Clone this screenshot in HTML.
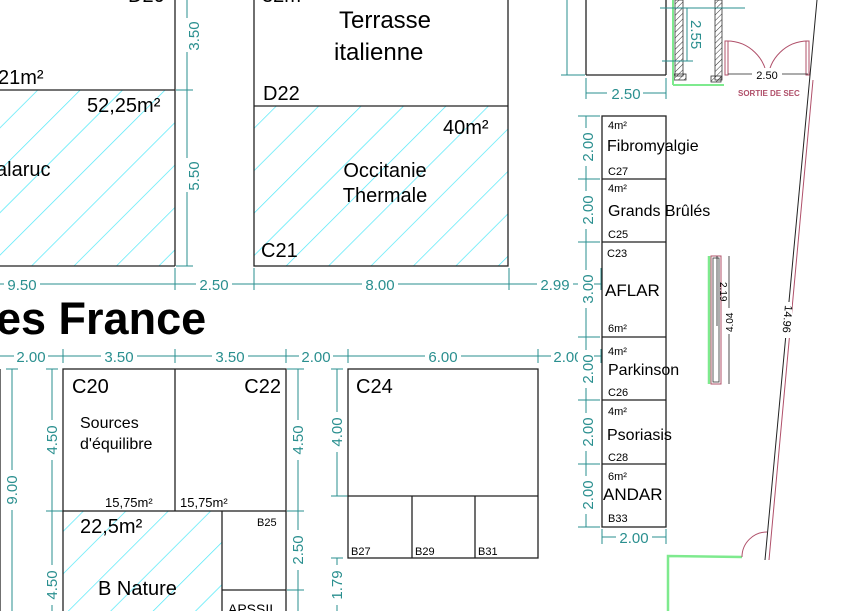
<!DOCTYPE html>
<html><head><meta charset="utf-8"><style>
html,body{margin:0;padding:0;background:#fff;}
svg{display:block;font-family:"Liberation Sans",Arial,sans-serif;}
.w{stroke:#222;stroke-width:1.3;fill:none;}
.d{stroke:#2a8f8f;stroke-width:1;fill:none;}
.dt{fill:#2a8f8f;font-size:15px;}
.t{fill:#000;}
</style></head><body>
<svg width="861" height="611" viewBox="0 0 861 611" xmlns="http://www.w3.org/2000/svg">
<defs>
<pattern id="h" patternUnits="userSpaceOnUse" width="30" height="30" patternTransform="rotate(45)">
<line x1="0" y1="0" x2="0" y2="30" stroke="#4de8f8" stroke-width="1.4"/>
</pattern>
<pattern id="wh" patternUnits="userSpaceOnUse" width="4" height="4" patternTransform="rotate(45)">
<line x1="0" y1="0" x2="0" y2="4" stroke="#333" stroke-width="1"/>
</pattern>
</defs>

<rect x="0" y="90" width="175" height="176" fill="url(#h)"/>
<rect x="254" y="106" width="254" height="160" fill="url(#h)"/>
<rect x="63" y="511" width="159" height="100" fill="url(#h)"/>

<line class="w" x1="175" y1="0" x2="175" y2="266"/>
<line class="w" x1="0" y1="90" x2="175" y2="90"/>
<line class="w" x1="0" y1="266" x2="175" y2="266"/>
<text class="t" x="128" y="2" font-size="20">D20</text>
<text class="t" x="-2" y="84" font-size="20">21m²</text>
<text class="t" x="87" y="112" font-size="20">52,25m²</text>
<text class="t" x="-4" y="176" font-size="20">alaruc</text>

<line class="d" x1="187" y1="0" x2="187" y2="266"/>
<line class="d" x1="176" y1="90" x2="193" y2="90"/>
<line class="d" x1="176" y1="266" x2="193" y2="266"/>
<rect x="180" y="18" width="14" height="34" fill="#fff"/>
<text class="dt" transform="translate(199,36) rotate(-90)" text-anchor="middle">3.50</text>
<rect x="180" y="158" width="14" height="34" fill="#fff"/>
<text class="dt" transform="translate(199,176) rotate(-90)" text-anchor="middle">5.50</text>

<rect class="w" x="254" y="-2" width="254" height="268"/>
<line class="w" x1="254" y1="106" x2="508" y2="106"/>
<text class="t" x="262" y="2" font-size="20">32m²</text>
<text class="t" x="385" y="28" font-size="24" text-anchor="middle">Terrasse</text>
<text class="t" x="334" y="60" font-size="24">italienne</text>
<text class="t" x="263" y="100" font-size="20">D22</text>
<text class="t" x="443" y="134" font-size="20">40m²</text>
<text class="t" x="385" y="177" font-size="20" text-anchor="middle">Occitanie</text>
<text class="t" x="385" y="202" font-size="20" text-anchor="middle">Thermale</text>
<text class="t" x="261" y="257" font-size="20">C21</text>

<line class="d" x1="0" y1="284" x2="601" y2="284"/>
<g class="d"><line x1="175" y1="268" x2="175" y2="290"/><line x1="254" y1="268" x2="254" y2="290"/><line x1="509" y1="268" x2="509" y2="290"/><line x1="601" y1="268" x2="601" y2="290"/></g>
<rect x="4" y="276" width="36" height="16" fill="#fff"/><text class="dt" x="22" y="290" text-anchor="middle">9.50</text>
<rect x="196" y="276" width="36" height="16" fill="#fff"/><text class="dt" x="214" y="290" text-anchor="middle">2.50</text>
<rect x="362" y="276" width="36" height="16" fill="#fff"/><text class="dt" x="380" y="290" text-anchor="middle">8.00</text>
<rect x="537" y="276" width="36" height="16" fill="#fff"/><text class="dt" x="555" y="290" text-anchor="middle">2.99</text>

<text x="-4" y="334" font-size="45" font-weight="bold" fill="#000">es France</text>

<line class="d" x1="0" y1="356" x2="601" y2="356"/>
<g class="d"><line x1="63" y1="349" x2="63" y2="363"/><line x1="175" y1="349" x2="175" y2="363"/><line x1="286" y1="349" x2="286" y2="363"/><line x1="348" y1="349" x2="348" y2="363"/><line x1="538" y1="349" x2="538" y2="363"/><line x1="601" y1="349" x2="601" y2="363"/></g>
<rect x="14" y="348" width="34" height="16" fill="#fff"/><text class="dt" x="31" y="362" text-anchor="middle">2.00</text>
<rect x="101" y="348" width="36" height="16" fill="#fff"/><text class="dt" x="119" y="362" text-anchor="middle">3.50</text>
<rect x="212" y="348" width="36" height="16" fill="#fff"/><text class="dt" x="230" y="362" text-anchor="middle">3.50</text>
<rect x="299" y="348" width="34" height="16" fill="#fff"/><text class="dt" x="316" y="362" text-anchor="middle">2.00</text>
<rect x="425" y="348" width="36" height="16" fill="#fff"/><text class="dt" x="443" y="362" text-anchor="middle">6.00</text>
<rect x="551" y="348" width="34" height="16" fill="#fff"/><text class="dt" x="568" y="362" text-anchor="middle">2.00</text>

<line class="w" x1="0" y1="369" x2="0" y2="611"/>
<line class="d" x1="12" y1="369" x2="12" y2="611"/>
<line class="d" x1="6" y1="369" x2="18" y2="369"/>
<rect x="4" y="470" width="16" height="40" fill="#fff"/>
<text class="dt" transform="translate(17,490) rotate(-90)" text-anchor="middle">9.00</text>
<line class="d" x1="52" y1="369" x2="52" y2="611"/>
<line class="d" x1="46" y1="369" x2="58" y2="369"/>
<line class="d" x1="46" y1="511" x2="63" y2="511"/>
<rect x="44" y="420" width="16" height="40" fill="#fff"/>
<text class="dt" transform="translate(57,440) rotate(-90)" text-anchor="middle">4.50</text>
<rect x="44" y="565" width="16" height="40" fill="#fff"/>
<text class="dt" transform="translate(57,585) rotate(-90)" text-anchor="middle">4.50</text>

<rect class="w" x="63" y="369" width="223" height="142"/>
<line class="w" x1="175" y1="369" x2="175" y2="511"/>
<line class="w" x1="63" y1="511" x2="63" y2="611"/>
<line class="w" x1="222" y1="511" x2="222" y2="611"/>
<line class="w" x1="286" y1="511" x2="286" y2="611"/>
<line class="w" x1="222" y1="590" x2="286" y2="590"/>
<text class="t" x="72" y="393" font-size="20">C20</text>
<text class="t" x="281" y="393" font-size="20" text-anchor="end">C22</text>
<text class="t" x="80" y="428" font-size="16">Sources</text>
<text class="t" x="80" y="449" font-size="16">d'équilibre</text>
<text class="t" x="105" y="507" font-size="13">15,75m²</text>
<text class="t" x="180" y="507" font-size="13">15,75m²</text>
<text class="t" x="80" y="533" font-size="20">22,5m²</text>
<text class="t" x="98" y="595" font-size="20">B Nature</text>
<text class="t" x="257" y="526" font-size="11">B25</text>
<text class="t" x="228" y="614" font-size="14">APSSII</text>

<line class="d" x1="298" y1="369" x2="298" y2="611"/>
<line class="d" x1="287" y1="369" x2="304" y2="369"/>
<line class="d" x1="287" y1="511" x2="304" y2="511"/>
<line class="d" x1="287" y1="590" x2="304" y2="590"/>
<rect x="290" y="420" width="16" height="40" fill="#fff"/>
<text class="dt" transform="translate(303,440) rotate(-90)" text-anchor="middle">4.50</text>
<rect x="290" y="530" width="16" height="40" fill="#fff"/>
<text class="dt" transform="translate(303,550) rotate(-90)" text-anchor="middle">2.50</text>

<line class="d" x1="337" y1="369" x2="337" y2="496"/>
<line class="d" x1="331" y1="369" x2="343" y2="369"/>
<line class="d" x1="331" y1="496" x2="348" y2="496"/>
<rect x="329" y="412" width="16" height="40" fill="#fff"/>
<text class="dt" transform="translate(342,432) rotate(-90)" text-anchor="middle">4.00</text>
<line class="d" x1="337" y1="558" x2="337" y2="611"/>
<line class="d" x1="331" y1="558" x2="343" y2="558"/>
<rect x="329" y="565" width="16" height="40" fill="#fff"/>
<text class="dt" transform="translate(342,585) rotate(-90)" text-anchor="middle">1.79</text>

<rect class="w" x="348" y="369" width="190" height="189"/>
<line class="w" x1="348" y1="496" x2="538" y2="496"/>
<line class="w" x1="412" y1="496" x2="412" y2="558"/>
<line class="w" x1="475" y1="496" x2="475" y2="558"/>
<text class="t" x="356" y="393" font-size="20">C24</text>
<text class="t" x="351" y="555" font-size="11">B27</text>
<text class="t" x="415" y="555" font-size="11">B29</text>
<text class="t" x="478" y="555" font-size="11">B31</text>

<line class="w" x1="586" y1="0" x2="586" y2="75"/>
<line class="w" x1="666" y1="0" x2="666" y2="75"/>
<line class="w" x1="586" y1="75" x2="666" y2="75"/>
<line class="d" x1="567" y1="0" x2="567" y2="75"/>
<line class="d" x1="561" y1="75" x2="585" y2="75"/>
<line class="d" x1="586" y1="93" x2="666" y2="93"/>
<line class="d" x1="586" y1="78" x2="586" y2="99"/>
<line class="d" x1="666" y1="78" x2="666" y2="99"/>
<rect x="607" y="85" width="36" height="16" fill="#fff"/><text class="dt" x="626" y="99" text-anchor="middle" font-size="16">2.50</text>

<rect x="675" y="0" width="8" height="76" fill="url(#wh)" stroke="#333" stroke-width="0.8"/>
<rect x="715" y="0" width="7" height="80" fill="url(#wh)" stroke="#333" stroke-width="0.8"/>
<rect x="674" y="74" width="12" height="6" fill="url(#wh)" stroke="#333" stroke-width="0.8"/>
<rect x="711" y="76" width="10" height="6" fill="url(#wh)" stroke="#333" stroke-width="0.8"/>
<line x1="673" y1="0" x2="673" y2="85" stroke="#7eea8e" stroke-width="2"/>
<line x1="673" y1="85" x2="724" y2="85" stroke="#7eea8e" stroke-width="2"/>
<line class="d" x1="660" y1="8" x2="745" y2="8"/>
<line class="d" x1="662" y1="61" x2="693" y2="61"/>
<line class="d" x1="687" y1="8" x2="687" y2="61"/>
<text class="dt" transform="translate(691,20) rotate(90)" font-size="11">2.55</text>
<g stroke="#b0506a" fill="none" stroke-width="1">
<rect x="725" y="41" width="3" height="34"/>
<rect x="806" y="41" width="3" height="34"/>
<path d="M727 41 A40 40 0 0 1 767 80"/>
<path d="M808 41 A40 40 0 0 0 768 80"/>
</g>
<line x1="728" y1="74" x2="808" y2="74" stroke="#222" stroke-width="0.8"/>
<rect x="752" y="68" width="30" height="12" fill="#fff"/>
<text x="767" y="79" font-size="11" text-anchor="middle" fill="#000">2.50</text>
<text x="738" y="96" font-size="8" fill="#b0506a" font-weight="bold">SORTIE DE SEC</text>

<line x1="817" y1="0" x2="765" y2="560" stroke="#222" stroke-width="1"/>
<line x1="813" y1="80" x2="769" y2="560" stroke="#b0506a" stroke-width="1"/>
<rect x="780" y="302" width="12" height="36" fill="#fff"/>
<text transform="translate(785,305) rotate(95)" font-size="11" fill="#000">14.96</text>

<line x1="709" y1="256" x2="709" y2="384" stroke="#7eea8e" stroke-width="2.5"/>
<rect x="711" y="256" width="10" height="128" fill="none" stroke="#b0506a" stroke-width="1"/>
<rect x="713" y="258" width="6" height="124" fill="none" stroke="#333" stroke-width="0.8"/>
<line x1="729" y1="256" x2="729" y2="384" stroke="#222" stroke-width="0.8"/>
<line x1="717" y1="256" x2="717" y2="326" stroke="#222" stroke-width="0.8"/>
<text transform="translate(720,282) rotate(90)" font-size="10" fill="#000">2.19</text>
<rect x="724" y="308" width="10" height="26" fill="#fff"/>
<text transform="translate(733,332) rotate(-90)" font-size="10" fill="#000">4.04</text>

<path d="M668 611 L668 556 L742 557" stroke="#7eea8e" stroke-width="2.5" fill="none"/>
<path d="M742 557 A25 25 0 0 1 767 532" stroke="#b0506a" stroke-width="1" fill="none"/>

<g class="w">
<rect x="602" y="116" width="64" height="411"/>
<line x1="602" y1="179" x2="666" y2="179"/>
<line x1="602" y1="242" x2="666" y2="242"/>
<line x1="602" y1="337" x2="666" y2="337"/>
<line x1="602" y1="400" x2="666" y2="400"/>
<line x1="602" y1="464" x2="666" y2="464"/>
</g>
<g class="t">
<text x="608" y="129" font-size="11">4m²</text>
<text x="607" y="151" font-size="16">Fibromyalgie</text>
<text x="608" y="175" font-size="11">C27</text>
<text x="608" y="192" font-size="11">4m²</text>
<text x="608" y="216" font-size="16">Grands Brûlés</text>
<text x="608" y="238" font-size="11">C25</text>
<text x="607" y="257" font-size="11">C23</text>
<text x="605" y="296" font-size="17">AFLAR</text>
<text x="608" y="332" font-size="11">6m²</text>
<text x="608" y="355" font-size="11">4m²</text>
<text x="608" y="375" font-size="16">Parkinson</text>
<text x="608" y="396" font-size="11">C26</text>
<text x="608" y="415" font-size="11">4m²</text>
<text x="607" y="440" font-size="16">Psoriasis</text>
<text x="608" y="461" font-size="11">C28</text>
<text x="608" y="480" font-size="11">6m²</text>
<text x="603" y="500" font-size="17">ANDAR</text>
<text x="608" y="522" font-size="11">B33</text>
</g>
<line class="d" x1="586" y1="116" x2="586" y2="527"/>
<g class="d">
<line x1="578" y1="116" x2="600" y2="116"/><line x1="578" y1="179" x2="600" y2="179"/><line x1="578" y1="242" x2="600" y2="242"/><line x1="578" y1="337" x2="600" y2="337"/><line x1="578" y1="400" x2="600" y2="400"/><line x1="578" y1="464" x2="600" y2="464"/><line x1="578" y1="527" x2="600" y2="527"/>
</g>
<g>
<rect x="578" y="128" width="16" height="38" fill="#fff"/><text class="dt" transform="translate(593,147) rotate(-90)" text-anchor="middle" font-size="16">2.00</text>
<rect x="578" y="191" width="16" height="38" fill="#fff"/><text class="dt" transform="translate(593,210) rotate(-90)" text-anchor="middle" font-size="16">2.00</text>
<rect x="578" y="270" width="16" height="38" fill="#fff"/><text class="dt" transform="translate(593,289) rotate(-90)" text-anchor="middle" font-size="16">3.00</text>
<rect x="578" y="350" width="16" height="38" fill="#fff"/><text class="dt" transform="translate(593,369) rotate(-90)" text-anchor="middle" font-size="16">2.00</text>
<rect x="578" y="413" width="16" height="38" fill="#fff"/><text class="dt" transform="translate(593,432) rotate(-90)" text-anchor="middle" font-size="16">2.00</text>
<rect x="578" y="476" width="16" height="38" fill="#fff"/><text class="dt" transform="translate(593,495) rotate(-90)" text-anchor="middle" font-size="16">2.00</text>
</g>
<line class="d" x1="602" y1="537" x2="666" y2="537"/>
<line class="d" x1="602" y1="529" x2="602" y2="544"/>
<line class="d" x1="666" y1="529" x2="666" y2="544"/>
<rect x="616" y="529" width="36" height="16" fill="#fff"/><text class="dt" x="634" y="543" text-anchor="middle" font-size="16">2.00</text>
</svg>
</body></html>
